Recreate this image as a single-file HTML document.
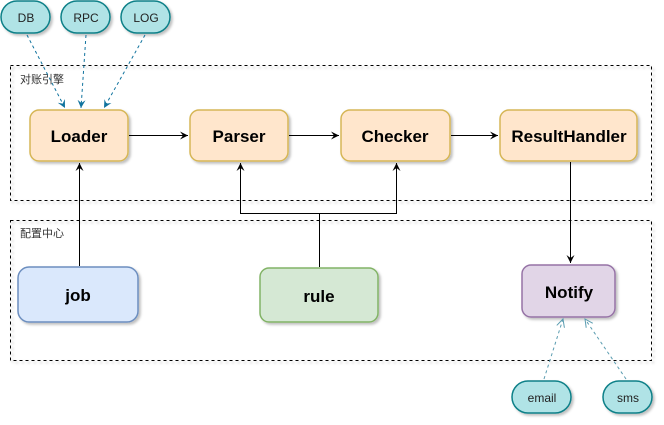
<!DOCTYPE html>
<html><head><meta charset="utf-8"><style>
html,body{margin:0;padding:0;background:#fff;overflow:hidden;}
svg{display:block;}
text{font-family:"Liberation Sans","Noto Sans CJK SC",sans-serif;}
</style></head><body>
<svg width="664" height="425" viewBox="0 0 664 425" xmlns="http://www.w3.org/2000/svg">
<defs>
<marker id="a" markerWidth="10" markerHeight="10" refX="8" refY="5" orient="auto" markerUnits="userSpaceOnUse"><path d="M0,1 L8,5 L0,9 L3,5 Z" fill="#000"/></marker>
<marker id="b" markerWidth="10" markerHeight="10" refX="8" refY="5" orient="auto" markerUnits="userSpaceOnUse"><path d="M0,1 L8,5 L0,9 L3,5 Z" fill="#10739e"/></marker>
<marker id="c" markerWidth="10" markerHeight="10" refX="8" refY="5" orient="auto" markerUnits="userSpaceOnUse"><path d="M0,1 L8,5 L0,9" fill="none" stroke="#5a9cb0"/></marker>
<filter id="s" x="-10%" y="-10%" width="130%" height="130%"><feDropShadow dx="2" dy="2" stdDeviation="1.2" flood-color="#000" flood-opacity="0.25"/></filter>
</defs>
<g fill="none" stroke="#000" stroke-dasharray="3,3" filter="url(#s)">
<rect x="10.5" y="65.5" width="641" height="135"/>
<rect x="10.5" y="220.5" width="641" height="140"/>
</g>
<text x="20" y="83" font-size="11" fill="#333">对账引擎</text>
<text x="20" y="237" font-size="11" fill="#333">配置中心</text>
<g filter="url(#s)" stroke-width="1.5">
<rect x="30" y="110" width="98" height="51" rx="9" fill="#ffe6cc" stroke="#d6b656"/>
<rect x="190" y="110" width="98" height="51" rx="9" fill="#ffe6cc" stroke="#d6b656"/>
<rect x="341" y="110" width="109" height="51" rx="9" fill="#ffe6cc" stroke="#d6b656"/>
<rect x="500" y="110" width="137" height="51" rx="9" fill="#ffe6cc" stroke="#d6b656"/>
<rect x="18" y="267" width="120" height="55" rx="11" fill="#dae8fc" stroke="#6c8ebf"/>
<rect x="260" y="268" width="118" height="54" rx="9" fill="#d5e8d4" stroke="#82b366"/>
<rect x="522" y="265" width="93" height="52" rx="9" fill="#e1d5e7" stroke="#9673a6"/>
<rect x="1" y="1" width="49" height="32" rx="16" fill="#b0e3e6" stroke="#0e8088"/>
<rect x="61" y="1" width="49" height="32" rx="16" fill="#b0e3e6" stroke="#0e8088"/>
<rect x="121" y="1" width="49" height="32" rx="16" fill="#b0e3e6" stroke="#0e8088"/>
<rect x="512" y="381" width="59" height="32" rx="16" fill="#b0e3e6" stroke="#0e8088"/>
<rect x="603" y="381" width="49" height="32" rx="16" fill="#b0e3e6" stroke="#0e8088"/>
</g>
<g font-weight="bold" font-size="17" text-anchor="middle" fill="#000">
<text x="79" y="142">Loader</text>
<text x="239" y="142">Parser</text>
<text x="395" y="142">Checker</text>
<text x="569" y="142">ResultHandler</text>
<text x="78" y="301">job</text>
<text x="319" y="302">rule</text>
<text x="569" y="298">Notify</text>
</g>
<g font-size="12" text-anchor="middle" fill="#222">
<text x="26" y="22">DB</text>
<text x="86" y="22">RPC</text>
<text x="146" y="22">LOG</text>
<text x="542" y="402">email</text>
<text x="628" y="402">sms</text>
</g>
<g stroke="#000" fill="none">
<line x1="129" y1="135.5" x2="188" y2="135.5" marker-end="url(#a)"/>
<line x1="289" y1="135.5" x2="339" y2="135.5" marker-end="url(#a)"/>
<line x1="451" y1="135.5" x2="498" y2="135.5" marker-end="url(#a)"/>
<line x1="79.5" y1="266" x2="79.5" y2="163" marker-end="url(#a)"/>
<polyline points="319.5,267 319.5,213.5 240.5,213.5 240.5,163" marker-end="url(#a)"/>
<polyline points="319.5,213.5 396.5,213.5 396.5,163" marker-end="url(#a)"/>
<line x1="570.5" y1="162" x2="570.5" y2="263" marker-end="url(#a)"/>
</g>
<g stroke="#10739e" stroke-dasharray="3,3" fill="none">
<line x1="27" y1="35" x2="65" y2="108" marker-end="url(#b)"/>
<line x1="86" y1="35" x2="81" y2="108" marker-end="url(#b)"/>
<line x1="145" y1="35" x2="104" y2="108" marker-end="url(#b)"/>
</g>
<g stroke="#5a9cb0" stroke-dasharray="3,3" fill="none">
<line x1="544" y1="379" x2="563" y2="319" marker-end="url(#c)"/>
<line x1="626" y1="379" x2="585" y2="319" marker-end="url(#c)"/>
</g>
</svg>
</body></html>
